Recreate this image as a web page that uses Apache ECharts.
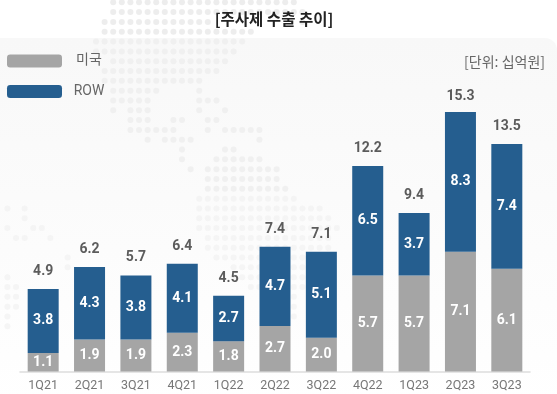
<!DOCTYPE html>
<html><head><meta charset="utf-8">
<style>html,body{margin:0;padding:0;background:#fff}#c{width:557px;height:394px}</style>
<script src="https://cdn.jsdelivr.net/npm/echarts@6/dist/echarts.min.js"></script>
</head><body><div id="c"></div>
<script>
const categories = ['1Q21','2Q21','3Q21','4Q21','1Q22','2Q22','3Q22','4Q22','1Q23','2Q23','3Q23'];
const usValues = [1.1,1.9,1.9,2.3,1.8,2.7,2.0,5.7,5.7,7.1,6.1];
const rowValues = [3.8,4.3,3.8,4.1,2.7,4.7,5.1,6.5,3.7,8.3,7.4];
const totals = [4.9,6.2,5.7,6.4,4.5,7.4,7.1,12.2,9.4,15.3,13.5];
const seriesNames = ['미국','ROW'];
// background dot map: [row, "col-col col ..."]
const mapRuns = [
 [0,'2-23'],[1,'2-24'],[2,'1-13 24'],[3,'1-18'],[4,'0-17'],[5,'0-16'],[6,'2-15'],[7,'1-14'],[8,'1-12'],
 [9,'2-7 12'],[10,'2-6 12-14'],[11,'2 4-6 12 15'],[12,'4-6 9-10 13-14'],[13,'4-9 13 15-19'],
 [14,'6 8-11 19'],[15,'10 15-16'],[16,'10 14-19'],[17,'11 13-21'],[18,'13-21'],[19,'13-22'],[20,'12-23'],
 [21,'12-26'],[22,'12-27'],[23,'12-28'],[24,'13-27'],[25,'13-27'],[26,'14-27'],[27,'16-26'],[28,'16-26'],
 [29,'18-25'],[30,'23'],[31,'23'],[32,'23']
];
const islandRuns = [
 [21,'0 2'],[22,'2'],[23,'0 3-4'],[24,'1-2 5'],[26,'7'],[27,'7'],[28,'0'],[29,'0-1'],[30,'0-1'],[31,'0-1'],[32,'0'],[33,'0']
];
function expand(runs, offset){
  const out=[];
  runs.forEach(([r,s])=>s.split(' ').forEach(p=>{
    const [a,b]=p.split('-').map(Number);
    for(let c=a;c<=(b===undefined?a:b);c++) out.push([c+offset,r]);
  }));
  return out;
}
const mapDots = expand(mapRuns,0).concat(expand(islandRuns,-10.3));
const font = "Roboto,'Noto Sans CJK KR',sans-serif";
const chart = echarts.init(document.getElementById('c'),null,{renderer:'canvas'});
chart.setOption({
  animation:false,
  backgroundColor:'#ffffff',
  title:[
    {text:'[주사제 수출 추이]',left:269,top:6,textAlign:'center',
     textStyle:{fontFamily:"'Noto Sans CJK KR'",fontSize:15.5,fontWeight:'bold',color:'#222'}},
    {text:'[단위: 십억원]',right:7,top:50,
     textStyle:{fontFamily:"'Noto Sans CJK KR'",fontSize:14,fontWeight:'normal',color:'#666'}}
  ],
  graphic:[{type:'rect',z:-10,silent:true,
    shape:{x:-12,y:38,width:569,height:370,r:12},
    style:{fill:new echarts.graphic.LinearGradient(0,0,0,1,[{offset:0,color:'#f8f8f8'},{offset:1,color:'#ffffff'}])}}],
  legend:{left:2,top:49,orient:'vertical',itemWidth:55,itemHeight:13,itemGap:16.5,
    data:seriesNames,
    icon:'roundRect',
    formatter:n=>'{a|'+n+'}',
    textStyle:{rich:{a:{width:44,align:'center',fontFamily:font,fontSize:14,color:'#666'}}}},
  grid:[
    {left:20,right:27,top:101.9,height:269.6},
    {left:0,top:0,width:557,height:394}
  ],
  xAxis:[
    {type:'category',gridIndex:0,data:categories,
     axisLine:{lineStyle:{color:'#dddddd',width:1.5}},axisTick:{show:false},
     axisLabel:{margin:8,fontFamily:font,fontSize:12.5,color:'#777'}},
    {type:'value',gridIndex:1,min:-11.163,max:53.6,show:false}
  ],
  yAxis:[
    {type:'value',gridIndex:0,min:0,max:16,show:false},
    {type:'value',gridIndex:1,min:-0.234,max:39.9,inverse:true,show:false}
  ],
  series:[
    {type:'scatter',name:'dots',xAxisIndex:1,yAxisIndex:1,data:mapDots,symbolSize:6,z:0,silent:true,
     itemStyle:{color:p=>p.value[1]<4?'#e8e8e8':(p.value[1]<20?'#eeeeee':'#f2f2f2')}},
    {type:'bar',name:seriesNames[0],stack:'a',data:usValues,barWidth:31,z:2,
     itemStyle:{color:'#a5a5a5'},
     label:{show:true,position:'inside',fontFamily:font,fontSize:14,fontWeight:'bold',color:'#fff',
       formatter:p=>p.value.toFixed(1)}},
    {type:'bar',name:seriesNames[1],stack:'a',data:rowValues,barWidth:31,z:2,
     itemStyle:{color:'#255e8f'},
     label:{show:true,position:'inside',fontFamily:font,fontSize:14,fontWeight:'bold',color:'#fff',
       formatter:p=>p.value.toFixed(1)}},
    {type:'scatter',name:'total',data:totals,symbolSize:1,z:3,silent:true,
     itemStyle:{color:'rgba(0,0,0,0)'},
     label:{show:true,position:'top',distance:10,fontFamily:font,fontSize:14,fontWeight:'bold',color:'#333',
       formatter:p=>p.value.toFixed(1)}}
  ]
});
</script></body></html>
